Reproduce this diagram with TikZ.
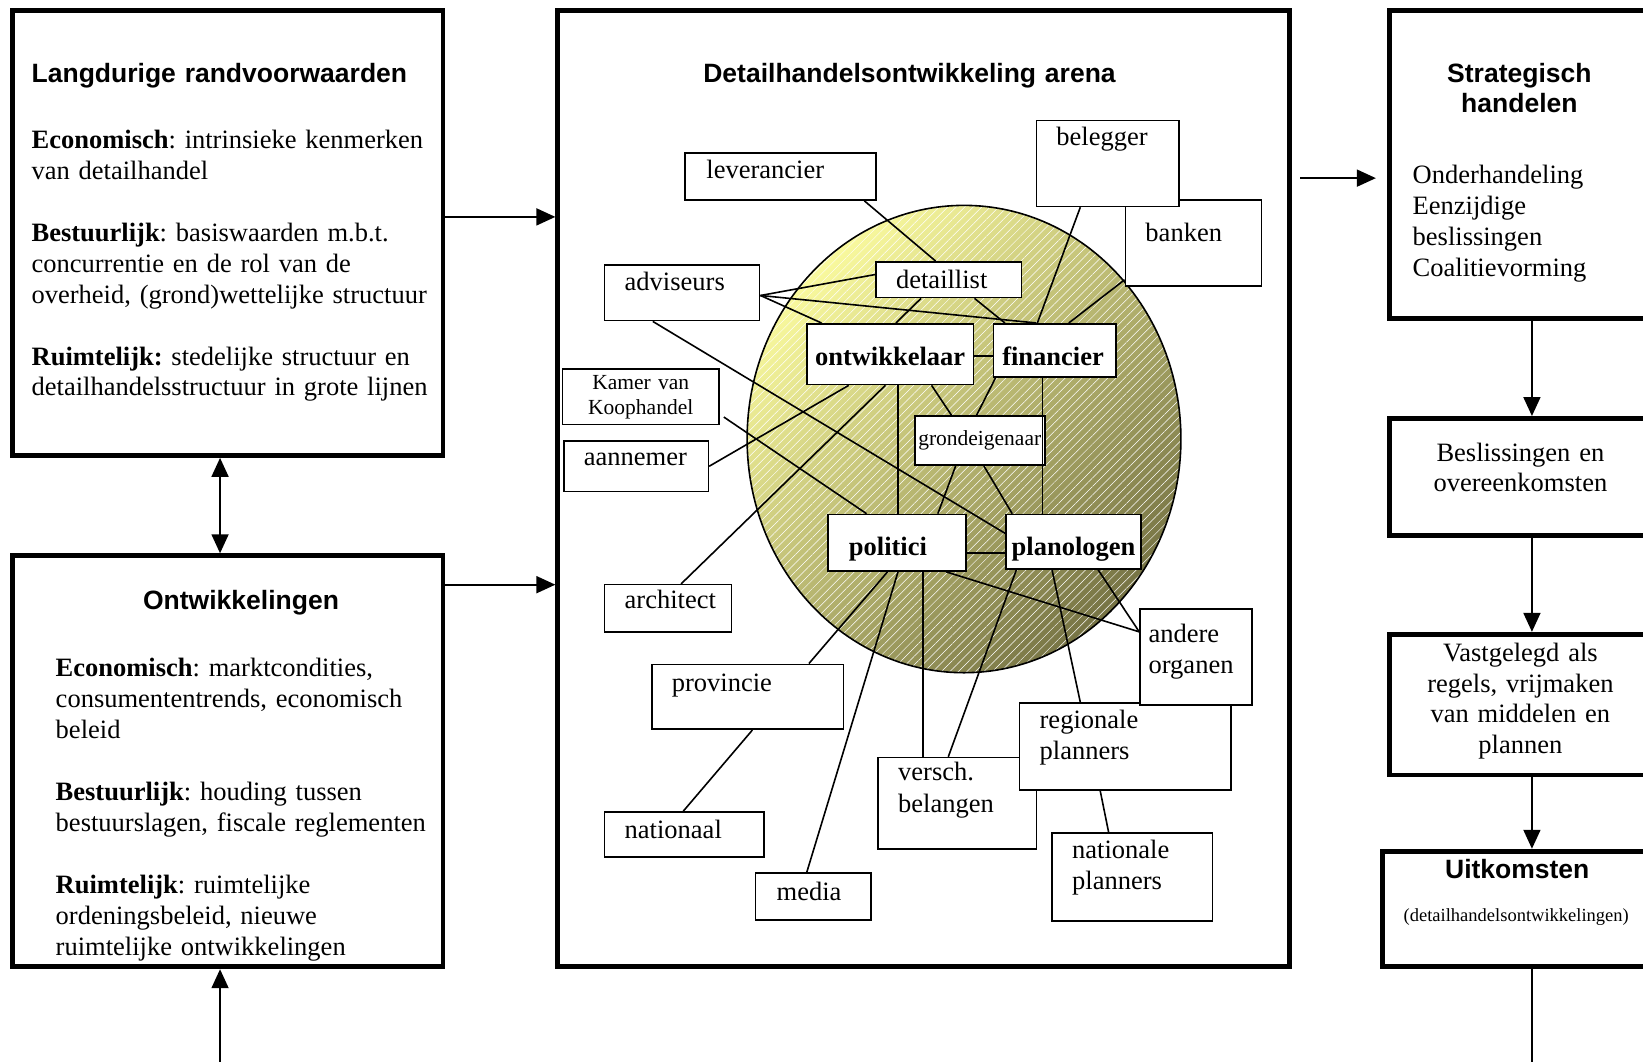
\documentclass[tikz,border=0pt]{standalone}
\usepackage{fontspec}
\setmainfont{Liberation Serif}
\setsansfont{Liberation Sans}
\usetikzlibrary{arrows.meta,calc,fit,patterns.meta}
\definecolor{circlight}{RGB}{250,250,158}
\definecolor{circdark}{RGB}{118,115,68}
\AtBeginDocument{\frenchspacing}
\begin{document}
\begin{tikzpicture}[x=1.0478pt,y=-1.0478pt,
  thickbox/.style={draw, line width=4.8pt, inner sep=0pt, fill=white},
  thinbox/.style={draw, line width=1.6pt, inner sep=0pt, fill=white},
  conn/.style={line width=1.6pt},
  arr/.style={line width=1.8pt,-{Triangle[length=19pt,width=17pt]}},
  darr/.style={line width=1.8pt,{Triangle[length=19pt,width=17pt]}-{Triangle[length=19pt,width=17pt]}},
  ttl/.style={inner sep=0pt, font=\sffamily\bfseries\fontsize{26.5}{29.5}\selectfont, text width=420pt},
  bodytxt/.style={inner sep=0pt, font=\fontsize{26.5}{30.9}\selectfont, text width=420pt, align=left, anchor=base west},
  lbl/.style={inner sep=0pt, font=\fontsize{26.5}{31.4}\selectfont, text width=200pt, align=left, anchor=base west},
  blbl/.style={inner sep=0pt, font=\bfseries\fontsize{26.5}{31.4}\selectfont, text width=200pt, align=center, anchor=base},
  slbl/.style={inner sep=0pt, font=\fontsize{21.5}{24.5}\selectfont, text width=200pt, align=center, anchor=base},
  ctr/.style={inner sep=0pt, font=\fontsize{26.5}{30.9}\selectfont, text width=280pt, align=center, anchor=base}
]
\useasboundingbox (0,0) rectangle (1568,1013);
\clip (0,0) rectangle (1568,1013);

% ---------- big boxes ----------
\node[thickbox, fit={(12.3,10.3) (422.7,434.7)}] (b1) {};
\node[thickbox, fit={(12.3,530.3) (422.7,922.7)}] (b2) {};
\node[thickbox, fit={(532.3,10.3) (1230.7,922.7)}] (arena) {};
\node[thickbox, fit={(1326.3,10.3) (1597.7,303.7)}] (s1) {};
\node[thickbox, fit={(1326.3,399.3) (1597.7,510.7)}] (s2) {};
\node[thickbox, fit={(1326.3,605.3) (1597.7,739.7)}] (s3) {};
\node[thickbox, fit={(1319.3,812.3) (1604.7,922.7)}] (s4) {};

% ---------- circle ----------
\shade[top color=circlight, bottom color=circdark, shading angle=45]
  (920,419) ellipse [x radius=207, y radius=223];
\fill[pattern={Lines[angle=45,distance=6pt,line width=0.5pt]}, pattern color=white, fill opacity=0.22]
  (920,419) ellipse [x radius=207, y radius=223];
\draw[line width=1.6pt] (920,419) ellipse [x radius=207, y radius=223];

% ---------- actor boxes ----------
\node[thinbox, fit={(654,146) (836,191)}] (lev) {};
\node[thinbox, fit={(1074,191) (1204,273)}] (ban) {};
\node[thinbox, fit={(989,115) (1125,197)}] (bel) {};
\node[thinbox, fit={(577,253) (725,306)}] (adv) {};
\node[thinbox, fit={(836,250) (975,284)}] (det) {};
\node[thinbox, fit={(770,309) (929,367)}] (ont) {};
\node[thinbox, fit={(948,309) (1065,360)}] (fin) {};
\node[thinbox, fit={(537,352) (686,405)}] (kvk) {};
\node[thinbox, fit={(873,397) (997,444)}] (gro) {};
\node[thinbox, fit={(538,421) (676,469)}] (aan) {};
\node[thinbox, fit={(790,491) (922,545)}] (pol) {};
\node[thinbox, fit={(960,491) (1089,543)}] (pla) {};
\node[thinbox, fit={(577,558) (698,603)}] (arc) {};
\node[thinbox, fit={(622,634) (805,696)}] (pro) {};
\node[thinbox, fit={(838,723) (989,810)}] (ver) {};
\node[thinbox, fit={(973,671) (1175,754)}] (reg) {};
\node[thinbox, fit={(1088,581) (1195,673)}] (and) {};
\node[thinbox, fit={(577,775) (729,818)}] (nat) {};
\node[thinbox, fit={(1004,795) (1157,879)}] (nap) {};
\node[thinbox, fit={(721,833) (831,878)}] (med) {};

% ---------- connectors ----------
\draw[conn] (lev.south -| 825,0) -- (det.north -| 893,0);
\draw[conn] (adv.east |- 0,282) -- (det.west |- 0,262);
\draw[conn] (adv.east |- 0,282) -- (ont.north -| 784,0);
\draw[conn] (adv.east |- 0,282) -- (fin.north -| 989,0);
\draw[conn] (adv.south -| 623,0) -- (pla.west |- 0,509);
\draw[conn] ($(kvk.east |- 0,398)+(4,0)$) -- (pol.north -| 827,0);
\draw[conn] (aan.east |- 0,445) -- (ont.south -| 810,0);
\draw[conn] (arc.north -| 650,0) -- (ont.south -| 845,0);
\draw[conn] (ont.south -| 857,0) -- (pol.north -| 857,0);
\draw[conn] (ont.south -| 889,0) -- (gro.north -| 908,0);
\draw[conn] (ont.east |- 0,340) -- (fin.west |- 0,340);
\draw[conn] (det.south -| 879,0) -- (ont.north -| 855,0);
\draw[conn] (det.south -| 930,0) -- (fin.north -| 959,0);
\draw[conn] (bel.south -| 1031,0) -- (fin.north -| 990,0);
\draw[conn] (ban.west |- 0,267) -- (fin.north -| 1020,0);
\draw[conn] (fin.south -| 950,0) -- (gro.north -| 932,0);
\draw[conn] (fin.south -| 995,0) -- (pla.north -| 995,0);
\draw[conn] (gro.south -| 912,0) -- (pol.north -| 895,0);
\draw[conn] (gro.south -| 939,0) -- (pla.north -| 966,0);
\draw[conn] (pol.east |- 0,528) -- (pla.west |- 0,528);
\draw[conn] (pol.south -| 903,0) -- (and.west |- 0,603);
\draw[conn] (pla.south -| 1048,0) -- (and.west |- 0,603);
\draw[conn] (pol.south -| 847,0) -- (pro.north -| 772,0);
\draw[conn] (pol.south -| 857,0) -- (med.north -| 770,0);
\draw[conn] (pol.south -| 881,0) -- (ver.north -| 881,0);
\draw[conn] (pla.south -| 970,0) -- (ver.north -| 905,0);
\draw[conn] (pla.south -| 1004,0) -- (reg.north -| 1031,0);
\draw[conn] (pro.south -| 718,0) -- (nat.north -| 652,0);
\draw[conn] (reg.south -| 1050,0) -- (nap.north -| 1058,0);

% ---------- actor labels ----------
\node[lbl] (levT) at (674,170) {leverancier};
\node[lbl] (belT) at (1008,139) {belegger};
\node[lbl] (banT) at (1093,230) {banken};
\node[lbl] (advT) at (596,277) {adviseurs};
\node[lbl] (detT) at (855,275) {detaillist};
\node[blbl] (ontT) at (849.5,349) {ontwikkelaar};
\node[blbl] (finT) at (1005,349) {financier};
\node[slbl] (kvkT) at (611.5,372) {Kamer van\\Koophandel};
\node[slbl] (groT) at (935,425) {grondeigenaar};
\node[lbl] (aanT) at (557,444) {aannemer};
\node[blbl, anchor=base west, align=left] (polT) at (810,530) {politici};
\node[blbl] (plaT) at (1024.5,530) {planologen};
\node[lbl] (arcT) at (596,581) {architect};
\node[lbl] (andT) at (1096,613) {andere\\organen};
\node[lbl] (proT) at (641,660) {provincie};
\node[lbl] (regT) at (992,695) {regionale\\planners};
\node[lbl] (verT) at (857,745) {versch.\\belangen};
\node[lbl] (natT) at (596,800) {nationaal};
\node[lbl] (napT) at (1023,819) {nationale\\planners};
\node[lbl] (medT) at (741,859) {media};

% ---------- big box texts ----------
\node[ttl, anchor=base west, align=left] (b1T) at (30,79) {Langdurige randvoorwaarden};
\node[bodytxt] (b1B) at (30,142) {\textbf{Economisch}: intrinsieke kenmerken\\
van detailhandel\\[30.9pt]
\textbf{Bestuurlijk}: basiswaarden m.b.t.\\
concurrentie en de rol van de\\
overheid, (grond)wettelijke structuur\\[30.9pt]
\textbf{Ruimtelijk:} stedelijke structuur en\\
detailhandelsstructuur in grote lijnen};

\node[ttl, anchor=base, align=center] (b2T) at (230,582) {Ontwikkelingen};
\node[bodytxt] (b2B) at (53,646) {\textbf{Economisch}: marktcondities,\\
consumententrends, economisch\\
beleid\\[30.9pt]
\textbf{Bestuurlijk}: houding tussen\\
bestuurslagen, fiscale reglementen\\[30.9pt]
\textbf{Ruimtelijk}: ruimtelijke\\
ordeningsbeleid, nieuwe\\
ruimtelijke ontwikkelingen};

\node[ttl, anchor=base, align=center, text width=600pt] (arT) at (868,79) {Detailhandelsontwikkeling arena};

\node[ttl, anchor=base, align=center, text width=260pt] (s1T) at (1450,79) {Strategisch\\handelen};
\node[bodytxt] (s1B) at (1348,175) {Onderhandeling\\Eenzijdige\\beslissingen\\Coalitievorming};
\node[ctr] (s2T) at (1451,440) {Beslissingen en\\overeenkomsten};
\node[ctr] (s3T) at (1451,631) {Vastgelegd als\\regels, vrijmaken\\van middelen en\\plannen};
\node[ttl, anchor=base, align=center, text width=260pt] (s4T) at (1448,838) {Uitkomsten};
\node[inner sep=0pt, font=\fontsize{18.5}{22}\selectfont, anchor=base] (s4B) at (1447,879) {(detailhandelsontwikkelingen)};

% ---------- arrows ----------
\coordinate (bl) at (210,1020);
\coordinate (br) at (1462,1020);
\coordinate (ar1) at (1241,170);
\draw[darr] (b1.south -| 210,0) -- (b2.north -| 210,0);
\draw[arr] (bl) -- (b2.south -| bl);
\draw[arr] (b1.east |- 0,207) -- (arena.west |- 0,207);
\draw[arr] (b2.east |- 0,558) -- (arena.west |- 0,558);
\draw[arr, shorten >=11.5pt] (ar1) -- (s1.west |- ar1);
\draw[arr] (s1.south) -- (s2.north);
\draw[arr] (s2.south) -- (s3.north);
\draw[arr] (s3.south) -- (s4.north);
\draw[line width=1.8pt] (s4.south) -- (br);
\end{tikzpicture}
\end{document}
